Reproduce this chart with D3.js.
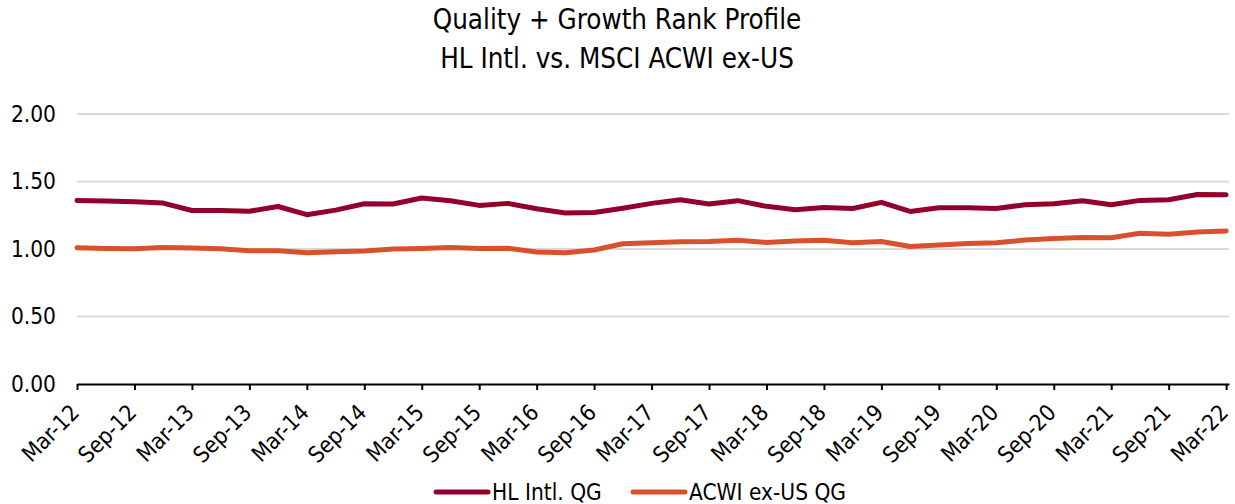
<!DOCTYPE html>
<html>
<head>
<meta charset="utf-8">
<script src="https://cdn.jsdelivr.net/npm/d3@7/dist/d3.min.js"></script>
<style>
    body {
        margin: 0;
        background: #fff;
    }

    svg text {
        font-family: "DejaVu Sans Condensed", "DejaVu Sans", sans-serif;
        font-stretch: condensed;
        fill: #000;
    }

    .grid line {
        stroke: #d9d9d9;
        stroke-width: 2;
    }

    .series {
        fill: none;
        stroke-width: 5;
        stroke-linejoin: round;
        stroke-linecap: round;
    }
</style>
</head>
<body>
<svg id="chart"></svg>
<script>
// quarterly observations, Mar-12 .. Mar-22
const quarters = [
    'Mar-12', 'Jun-12', 'Sep-12', 'Dec-12', 'Mar-13', 'Jun-13', 'Sep-13', 'Dec-13',
    'Mar-14', 'Jun-14', 'Sep-14', 'Dec-14', 'Mar-15', 'Jun-15', 'Sep-15', 'Dec-15',
    'Mar-16', 'Jun-16', 'Sep-16', 'Dec-16', 'Mar-17', 'Jun-17', 'Sep-17', 'Dec-17',
    'Mar-18', 'Jun-18', 'Sep-18', 'Dec-18', 'Mar-19', 'Jun-19', 'Sep-19', 'Dec-19',
    'Mar-20', 'Jun-20', 'Sep-20', 'Dec-20', 'Mar-21', 'Jun-21', 'Sep-21', 'Dec-21',
    'Mar-22'
];

const hlIntl = [
    1.36, 1.355, 1.35, 1.34, 1.285, 1.285, 1.28, 1.315,
    1.254, 1.288, 1.335, 1.333, 1.378, 1.358, 1.323, 1.338,
    1.298, 1.267, 1.27, 1.302, 1.338, 1.365, 1.333, 1.358,
    1.316, 1.29, 1.308, 1.30, 1.345, 1.278, 1.306, 1.306,
    1.30, 1.328, 1.336, 1.358, 1.328, 1.36, 1.365, 1.404,
    1.402
];

const acwiExUS = [
    1.009, 1.004, 1.002, 1.012, 1.008, 1.002, 0.987, 0.987,
    0.973, 0.98, 0.986, 1.0, 1.004, 1.012, 1.003, 1.005,
    0.978, 0.972, 0.993, 1.039, 1.047, 1.053, 1.056, 1.065,
    1.049, 1.059, 1.064, 1.047, 1.056, 1.019, 1.03, 1.04,
    1.046, 1.066, 1.077, 1.085, 1.084, 1.116, 1.11, 1.126,
    1.134
];

const yTicks = [0, 0.5, 1.0, 1.5, 2.0];

const seriesNames = ['HL Intl. QG', 'ACWI ex-US QG'];
const seriesColors = ['#93002b', '#d9512c'];

const width = 1235;
const height = 504;
const margin = {top: 114, left: 77, right: 6, bottom: 120};
const fontSize = '22.5px';

const svg = d3.select('#chart')
    .attr('width', width)
    .attr('height', height);

const x = d3.scaleLinear()
    .domain([0, quarters.length - 1 + 0.1])
    .range([margin.left, width - margin.right]);

const y = d3.scaleLinear()
    .domain([0, 2])
    .range([height - margin.bottom, margin.top]);

// title
const title = svg.append('text')
    .attr('text-anchor', 'middle')
    .style('font-size', '27.5px');
title.append('tspan').attr('x', 617).attr('y', 29).text('Quality + Growth Rank Profile');
title.append('tspan').attr('x', 617).attr('y', 68).text('HL Intl. vs. MSCI ACWI ex-US');

// gridlines
svg.append('g')
    .attr('class', 'grid')
    .selectAll('line')
    .data(yTicks.filter(d => d > 0))
  .enter().append('line')
    .attr('x1', x.range()[0])
    .attr('x2', x.range()[1])
    .attr('y1', d => y(d))
    .attr('y2', d => y(d));

// y axis labels only
const yAxis = d3.axisLeft(y)
    .tickValues(yTicks)
    .tickFormat(d3.format('.2f'))
    .tickSize(0)
    .tickPadding(21);

svg.append('g')
    .attr('transform', 'translate(' + margin.left + ',0)')
    .call(yAxis)
    .call(g => g.select('.domain').remove())
    .call(g => g.selectAll('text').style('font-size', fontSize));

// x axis
const xTickIdx = d3.range(0, quarters.length, 2);
const xAxis = d3.axisBottom(x)
    .tickValues(xTickIdx)
    .tickFormat(i => quarters[i])
    .tickSizeInner(6)
    .tickSizeOuter(0);

const gx = svg.append('g')
    .attr('transform', 'translate(0,' + y(0) + ')')
    .call(xAxis);

gx.select('.domain')
    .attr('stroke', '#000')
    .attr('stroke-width', 2);
gx.selectAll('.tick line')
    .attr('stroke', '#000')
    .attr('stroke-width', 2);
gx.selectAll('.tick text')
    .style('font-size', fontSize)
    .attr('text-anchor', 'end')
    .attr('x', 0)
    .attr('y', 0)
    .attr('dy', 0)
    .attr('transform', 'translate(3,30) rotate(-45)');

// lines
const line = d3.line()
    .x((_, i) => x(i))
    .y(d => y(d));

svg.selectAll('.series')
    .data([hlIntl, acwiExUS])
  .enter().append('path')
    .attr('class', 'series')
    .attr('stroke', (_, i) => seriesColors[i])
    .attr('d', line);

// legend
const legendItems = [
    {name: seriesNames[0], color: seriesColors[0], x: 434},
    {name: seriesNames[1], color: seriesColors[1], x: 631},
];

const legend = svg.append('g')
    .attr('transform', 'translate(0,492)');

const li = legend.selectAll('g')
    .data(legendItems)
  .enter().append('g')
    .attr('transform', d => 'translate(' + d.x + ',0)');

li.append('line')
    .attr('x1', 2)
    .attr('x2', 54)
    .attr('stroke', d => d.color)
    .attr('stroke-width', 5)
    .attr('stroke-linecap', 'round');

li.append('text')
    .attr('x', 58)
    .attr('dy', '0.35em')
    .style('font-size', fontSize)
    .text(d => d.name);
</script>
</body>
</html>
